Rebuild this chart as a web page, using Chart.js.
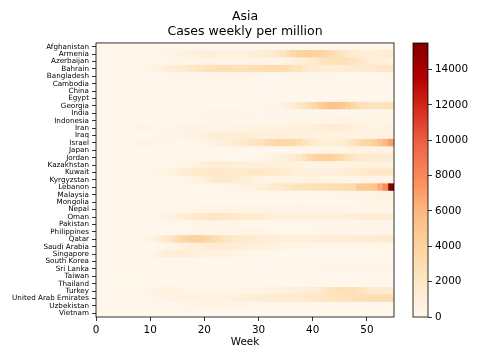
<!DOCTYPE html>
<html>
<head>
<meta charset="utf-8">
<title>Asia - Cases weekly per million</title>
<script src="https://cdn.jsdelivr.net/npm/chart.js@4.4.1/dist/chart.umd.min.js"></script>
<style>
  body { margin: 0; background: #fff; }
  #wrap { position: relative; width: 480px; height: 360px; }
  canvas { position: absolute; left: 0; top: 0; }
</style>
</head>
<body>
<div id="wrap">
  <canvas id="heat" width="480" height="360"></canvas>
  <canvas id="cbar" width="480" height="360"></canvas>
</div>
<script>
// rows of the heatmap, top to bottom
const countries = ['Afghanistan', 'Armenia', 'Azerbaijan', 'Bahrain', 'Bangladesh', 'Cambodia', 'China',
  'Egypt', 'Georgia', 'India', 'Indonesia', 'Iran', 'Iraq', 'Israel', 'Japan', 'Jordan', 'Kazakhstan',
  'Kuwait', 'Kyrgyzstan', 'Lebanon', 'Malaysia', 'Mongolia', 'Nepal', 'Oman', 'Pakistan', 'Philippines',
  'Qatar', 'Saudi Arabia', 'Singapore', 'South Korea', 'Sri Lanka', 'Taiwan', 'Thailand', 'Turkey',
  'United Arab Emirates', 'Uzbekistan', 'Vietnam'];

// weekly cases per million, weeks 0..54
const cases = [
  [0,0,0,0,0, 0,0,10,20,30, 50,80,100,120,140, 150,150,140,120,100, 80,60,50,40,40, 40,30,30,30,30, 30,30,40,50,60, 80,100,120,130,140, 140,130,120,100,90, 80,80,80,80,90, 100,110,120,130,140],
  [0,0,0,0,0, 0,0,10,30,60, 100,200,300,400,500, 600,700,800,900,1000, 1000,1000,900,900,900, 900,900,900,1000,1000, 1100,1300,1500,1800,2200, 2800,3400,3800,4000,4100, 4000,3800,3500,3000,2600, 2200,1800,1500,1300,1200, 1100,1100,1200,1300,1400],
  [0,0,0,0,0, 0,0,0,10,20, 30,50,60,80,100, 150,200,250,300,300, 300,300,300,300,300, 300,300,300,300,300, 300,300,350,400,500, 600,800,1000,1200,1500, 1800,2100,2400,2600,2700, 2700,2600,2300,2000,1600, 1300,1100,900,800,700],
  [0,0,0,0,0, 0,0,50,150,300, 500,700,900,1100,1300, 1500,1700,1900,2100,2300, 2500,2600,2700,2800,2800, 2700,2600,2600,2700,2800, 2900,3000,3100,3100,3000, 2800,2500,2200,1900,1700, 1500,1400,1300,1300,1300, 1300,1400,1400,1500,1600, 1700,1800,1900,2000,2000],
  [0,0,0,0,0, 0,0,0,10,20, 40,60,80,100,120, 150,170,180,180,180, 170,160,150,140,130, 120,110,100,90,80, 70,60,60,60,70, 80,90,100,110,110, 110,100,90,80,70, 60,60,60,60,60, 60,60,70,80,100],
  [0,0,0,0,0, 0,0,0,0,0, 0,0,0,0,0, 0,0,0,0,0, 0,0,0,0,0, 0,0,0,0,0, 0,0,0,0,0, 0,0,0,0,0, 0,0,0,0,0, 0,0,0,0,0, 0,0,0,0,0],
  [5,5,5,5,2, 1,0,0,0,0, 0,0,0,0,0, 0,0,0,0,0, 0,0,0,0,0, 0,0,0,0,0, 0,0,0,0,0, 0,0,0,0,0, 0,0,0,0,0, 0,0,0,0,0, 0,0,0,0,0],
  [0,0,0,0,0, 0,0,0,5,10, 20,30,40,50,60, 70,70,60,50,40, 30,20,15,10,10, 10,10,10,10,10, 10,10,10,15,20, 30,40,50,60,60, 60,60,50,50,40, 40,40,40,40,40, 40,40,40,40,40],
  [0,0,0,0,0, 0,0,5,10,10, 10,10,10,10,10, 10,10,10,10,10, 10,10,10,15,20, 20,30,30,40,50, 50,100,200,400,700, 1000,1400,1800,2300,2800, 3400,4200,4800,5200,5200, 4800,4200,3500,2900,2600, 2500,2400,2400,2500,2500],
  [0,0,0,0,0, 0,0,0,0,0, 5,10,20,30,50, 70,100,130,160,200, 230,260,280,300,300, 280,260,230,200,170, 150,130,110,100,90, 80,80,80,80,80, 80,80,80,80,80, 80,80,80,80,90, 90,90,100,100,100],
  [0,0,0,0,0, 0,0,0,0,0, 5,10,15,20,30, 40,50,60,70,80, 90,100,110,120,130, 140,150,160,170,180, 190,200,210,220,230, 240,250,270,290,310, 330,350,370,390,400, 420,420,400,380,360, 350,340,330,320,310],
  [0,0,0,0,0, 50,150,250,300,250, 200,180,180,200,250, 300,350,400,450,450, 420,400,380,380,400, 420,450,500,550,600, 650,700,700,700,700, 700,750,800,850,900, 1000,1100,1300,1400,1400, 1300,1100,900,700,600, 500,500,550,600,700],
  [0,0,0,0,0, 0,0,0,10,20, 50,100,150,200,300, 400,500,600,700,800, 900,1000,1100,1200,1200, 1200,1200,1200,1100,1000, 900,900,900,900,900, 900,900,800,800,800, 700,700,700,600,600, 600,600,600,600,600, 600,600,650,700,750],
  [0,0,0,0,10, 50,150,250,300,300, 250,200,150,100,80, 60,60,80,120,200, 400,600,800,1000,1200, 1400,1600,1800,2000,2200, 2500,2800,3200,3500,3600, 3400,3200,2800,2200,1800, 1400,1200,1000,1000,1100, 1300,1800,2400,3000,3400, 3800,4300,5000,6000,7000],
  [0,0,0,0,0, 0,0,0,0,0, 5,10,15,20,20, 20,15,10,10,10, 10,20,40,60,80, 90,90,80,70,60, 50,50,50,60,70, 80,90,100,120,150, 180,220,260,300,350, 400,450,500,550,600, 650,700,700,650,600],
  [0,0,0,0,0, 0,0,0,0,0, 5,5,5,5,5, 5,5,5,5,5, 5,5,5,5,5, 10,20,40,80,150, 200,300,500,700,900, 1100,1400,1800,2500,3200, 3700,4000,4000,3900,3600, 3100,2600,2100,1800,1600, 1500,1400,1400,1400,1500],
  [0,0,0,0,0, 0,0,0,0,0, 20,50,100,150,200, 300,400,500,700,900, 1000,1200,1300,1300,1200, 1100,1000,900,900,900, 900,900,900,900,850, 800,700,600,500,500, 500,500,500,500,500, 550,600,650,700,750, 800,800,800,750,700],
  [0,0,0,0,0, 0,0,0,20,50, 100,200,400,600,800, 1000,1300,1500,1700,1800, 1900,2000,2000,1900,1800, 1700,1700,1800,1900,2000, 2000,1900,1800,1700,1500, 1400,1200,1000,900,800, 800,800,800,900,1000, 1100,1300,1500,1700,1800, 1900,2000,2000,2000,1900],
  [0,0,0,0,0, 0,0,0,0,0, 10,20,30,50,80, 120,200,300,500,800, 1200,1600,1800,1800,1700, 1500,1300,1100,900,700, 500,400,400,400,400, 450,500,550,600,600, 600,550,500,450,400, 350,300,300,300,300, 300,300,300,300,300],
  [0,0,0,0,0, 0,0,0,0,0, 5,5,5,5,5, 5,5,10,20,40, 60,100,150,200,300, 400,500,600,700,800, 1000,1200,1400,1600,1800, 2000,2200,2400,2500,2600, 2700,2700,2800,2800,2900, 3000,3100,3200,4500,4600, 4800,5200,6500,8000,15500],
  [0,0,0,0,0, 0,0,0,0,0, 10,10,10,10,10, 10,10,10,10,10, 10,10,10,10,10, 10,10,10,10,10, 20,30,40,50,60, 70,80,90,100,120, 140,160,180,200,230, 260,300,350,400,450, 500,550,600,650,700],
  [0,0,0,0,0, 0,0,0,0,0, 0,0,0,0,0, 0,0,0,0,0, 0,0,0,0,0, 0,0,0,0,0, 0,0,0,0,0, 0,0,0,0,0, 0,0,5,10,20, 30,40,60,80,100, 150,200,250,300,350],
  [0,0,0,0,0, 0,0,0,0,0, 5,10,20,30,50, 80,100,150,200,250, 300,350,400,450,500, 500,550,550,550,550, 500,500,500,500,500, 500,500,500,500,500, 450,400,400,350,300, 300,250,250,200,200, 200,200,200,200,200],
  [0,0,0,0,0, 0,0,0,30,60, 100,200,400,600,800, 1000,1200,1400,1600,1800, 2000,2100,2100,2000,1900, 1800,1700,1700,1600,1500, 1300,1100,1000,900,900, 900,900,900,900,900, 900,900,900,900,900, 1000,1000,1000,1100,1100, 1100,1200,1200,1200,1200],
  [0,0,0,0,0, 0,0,0,0,0, 10,20,50,80,120, 160,200,230,250,250, 230,200,170,140,110, 90,70,60,50,50, 50,50,50,50,50, 50,50,60,60,70, 80,100,120,140,150, 150,140,130,120,110, 100,100,100,110,120],
  [0,0,0,0,0, 0,0,0,0,0, 5,10,20,30,40, 50,60,80,100,130, 160,200,250,300,330, 350,350,330,300,280, 250,230,220,210,200, 200,200,200,200,200, 200,200,200,200,200, 200,200,200,200,200, 200,200,220,250,280],
  [0,0,0,0,0, 0,50,100,200,400, 700,1000,1500,2000,2600, 3200,3700,4000,4100,4000, 3700,3300,2800,2400,2100, 1900,1800,1700,1600,1500, 1300,1200,1100,1000,1000, 1000,1000,1000,1000,1000, 1000,1000,1100,1100,1200, 1200,1300,1300,1400,1400, 1400,1500,1500,1500,1500],
  [0,0,0,0,0, 0,0,0,0,20, 50,100,200,300,400, 600,800,1000,1100,1200, 1300,1300,1300,1300,1200, 1200,1100,1100,1000,1000, 900,800,700,600,500, 400,350,300,250,250, 200,200,200,200,200, 200,200,200,200,200, 200,200,200,200,200],
  [0,0,0,0,0, 0,0,0,50,100, 300,600,900,1100,1200, 1200,1100,1000,900,800, 800,700,700,600,600, 500,400,300,200,150, 100,100,80,80,60, 60,60,60,60,60, 60,60,60,60,60, 60,60,60,60,60, 60,60,60,60,60],
  [0,0,0,50,80, 40,20,10,10,10, 10,10,10,10,10, 10,10,10,10,10, 10,10,10,10,10, 20,20,20,20,20, 20,20,20,20,20, 20,20,20,20,30, 50,80,100,120,130, 140,150,150,150,150, 150,160,170,180,190],
  [0,0,0,0,0, 0,0,0,0,0, 0,0,0,0,0, 0,0,0,0,0, 0,0,0,0,0, 0,0,0,0,0, 0,0,0,0,0, 0,0,0,0,0, 50,80,120,150,180, 200,200,200,200,200, 200,200,200,200,200],
  [0,0,0,0,0, 0,0,0,0,0, 0,0,0,0,0, 0,0,0,0,0, 0,0,0,0,0, 0,0,0,0,0, 0,0,0,0,0, 0,0,0,0,0, 0,0,0,0,0, 0,0,0,0,0, 0,0,0,0,0],
  [0,0,0,0,0, 0,0,0,0,0, 0,0,0,0,0, 0,0,0,0,0, 0,0,0,0,0, 0,0,0,0,0, 0,0,0,0,0, 0,0,0,0,0, 0,0,0,0,0, 0,0,0,0,0, 10,20,30,40,50],
  [0,0,0,0,0, 0,0,50,150,300, 500,600,700,700,600, 500,400,350,300,300, 300,300,300,300,300, 300,350,400,450,500, 550,600,650,700,750, 800,900,1000,1100,1200, 1300,1700,2100,2400,2600, 2700,2700,2600,2400,2100, 1800,1700,1600,1600,1700],
  [0,0,0,0,0, 0,0,20,50,100, 200,300,400,500,600, 700,800,800,800,800, 800,800,800,800,800, 850,900,1000,1100,1200, 1300,1400,1500,1500,1500, 1500,1500,1600,1700,1800, 1900,2000,2100,2200,2300, 2400,2500,2600,2700,2800, 2900,3000,3000,3100,3200],
  [0,0,0,0,0, 0,0,0,0,0, 0,0,10,20,50, 100,200,300,400,500, 550,550,500,450,400, 350,300,250,200,150, 120,100,100,100,100, 100,100,100,100,100, 80,80,80,80,80, 80,80,80,80,80, 80,80,80,80,80],
  [0,0,0,0,0, 0,0,0,0,0, 0,0,0,0,0, 0,0,0,0,0, 0,0,0,0,0, 0,0,0,0,0, 0,0,0,0,0, 0,0,0,0,0, 0,0,0,0,0, 0,0,0,0,0, 0,0,0,0,0]
];

const xTicks = [0, 10, 20, 30, 40, 50];
const cbarTicks = [0, 2000, 4000, 6000, 8000, 10000, 12000, 14000];
const vmax = 15500;
const nWeeks = 55;

// matplotlib OrRd
const orRd = ['#fff7ec', '#fee8c8', '#fdd49e', '#fdbb84', '#fc8d59', '#ef6548', '#d7301f', '#b30000', '#7f0000'];

function hexToRgb(h) {
    return [parseInt(h.slice(1, 3), 16), parseInt(h.slice(3, 5), 16), parseInt(h.slice(5, 7), 16)];
}

function colorFor(v) {
    let t = Math.max(0, Math.min(1, v / vmax)) * (orRd.length - 1);
    const i = Math.min(Math.floor(t), orRd.length - 2);
    const f = t - i;
    const a = hexToRgb(orRd[i]);
    const b = hexToRgb(orRd[i + 1]);
    const c = a.map((x, k) => Math.round(x + (b[k] - x) * f));
    return `rgb(${c[0]},${c[1]},${c[2]})`;
}

Chart.defaults.font.family = "'DejaVu Sans', sans-serif";
Chart.defaults.color = '#000';

// black box round the plot area
const frame = {
    id: 'frame',
    afterDatasetsDraw(chart) {
        const {ctx, chartArea: a} = chart;
        ctx.save();
        ctx.strokeStyle = '#000';
        ctx.lineWidth = 0.8;
        ctx.strokeRect(a.left, a.top, a.right - a.left, a.bottom - a.top);
        ctx.restore();
    }
};

// centre the title over the plot, not over the whole canvas
const centerTitle = {
    id: 'centerTitle',
    afterLayout(chart) {
        const t = chart.titleBlock;
        if (!t) return;
        t.left = chart.chartArea.left;
        t.right = chart.chartArea.right;
        t.width = t.right - t.left;
    }
};

const cells = [];
countries.forEach((name, i) => {
    cases[i].forEach((v, w) => {
        cells.push({x: [w, w + 1], y: name, v: v});
    });
});

new Chart(document.getElementById('heat'), {
    type: 'bar',
    data: {
        labels: countries,
        datasets: [{
            data: cells,
            backgroundColor: ctx => ctx.raw ? colorFor(ctx.raw.v) : '#fff',
            borderWidth: 0,
            barPercentage: 1,
            categoryPercentage: 1
        }]
    },
    options: {
        indexAxis: 'y',
        responsive: false,
        animation: false,
        events: [],
        layout: { padding: { left: 0, right: 86, top: 0, bottom: 0 } },
        plugins: {
            legend: { display: false },
            tooltip: { enabled: false },
            title: {
                display: true,
                text: ['Asia', 'Cases weekly per million'],
                color: '#000',
                font: { size: 12.5, weight: 'normal', lineHeight: 1.15 },
                padding: { top: 9.8, bottom: 4.4 }
            }
        },
        scales: {
            x: {
                type: 'linear',
                min: 0,
                max: nWeeks,
                afterBuildTicks: s => { s.ticks = xTicks.map(v => ({value: v})); },
                afterFit: s => { s.height = 43; },
                ticks: { font: { size: 10.4 }, color: '#000', padding: 3, maxRotation: 0 },
                grid: { drawOnChartArea: false, drawTicks: true, tickLength: 4, color: '#000', lineWidth: 0.8 },
                border: { display: false },
                title: { display: true, text: 'Week', color: '#000', font: { size: 10.4 }, padding: { top: 0, bottom: 11 } }
            },
            y: {
                type: 'category',
                offset: true,
                afterFit: s => { s.width = 96; },
                ticks: { font: { size: 7.2 }, color: '#000', padding: 3, autoSkip: false },
                grid: { offset: false, drawOnChartArea: false, drawTicks: true, tickLength: 4, color: '#000', lineWidth: 0.8 },
                border: { display: false }
            }
        }
    },
    plugins: [frame, centerTitle]
});

// colour bar
new Chart(document.getElementById('cbar'), {
    type: 'bar',
    data: {
        labels: [''],
        datasets: [{
            data: [[0, vmax]],
            backgroundColor: ctx => {
                const a = ctx.chart.chartArea;
                if (!a) return null;
                const g = ctx.chart.ctx.createLinearGradient(0, a.bottom, 0, a.top);
                orRd.forEach((c, i) => g.addColorStop(i / (orRd.length - 1), c));
                return g;
            },
            borderWidth: 0,
            barPercentage: 1,
            categoryPercentage: 1
        }]
    },
    options: {
        responsive: false,
        animation: false,
        events: [],
        layout: { padding: { left: 413, right: 0, top: 43, bottom: 43 } },
        plugins: { legend: { display: false }, tooltip: { enabled: false } },
        scales: {
            x: { display: false },
            y: {
                position: 'right',
                min: 0,
                max: vmax,
                afterBuildTicks: s => { s.ticks = cbarTicks.map(v => ({value: v})); },
                afterFit: s => { s.width = 52; },
                ticks: { font: { size: 10.4 }, color: '#000', padding: 3, callback: v => String(v) },
                grid: { drawOnChartArea: false, drawTicks: true, tickLength: 4, color: '#000', lineWidth: 0.8 },
                border: { display: false }
            }
        }
    },
    plugins: [frame]
});
</script>
</body>
</html>
